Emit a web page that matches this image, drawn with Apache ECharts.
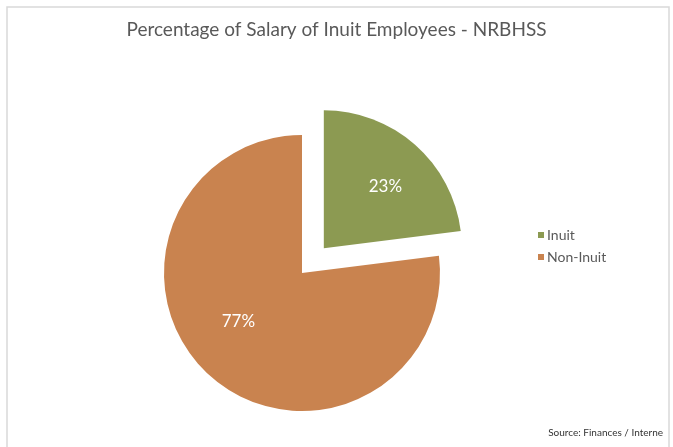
<!DOCTYPE html>
<html>
<head>
<meta charset="utf-8">
<script src="https://cdn.jsdelivr.net/npm/echarts@6/dist/echarts.min.js"></script>
<style>
  html, body { margin: 0; padding: 0; background: #fff; }
  #chart { width: 673px; height: 447px; }
</style>
</head>
<body>
<div id="chart"></div>
<script>
// Share of salary paid to Inuit vs. non-Inuit employees
const categories = ['Inuit', 'Non-Inuit'];
const shares = [23, 77];
const sliceColors = ['#8c9a52', '#c9834f'];
// per-slice label tweaks: padding shifts sideways, trailing blank line lifts the text
const labelPaddings = [[0, 0, 0, 28], [0, 0, 0, 0]];
const labelOffsets = [[0, 0], [-16, -5]];
const labelFormats = ['{c}%\n ', '{c}%'];

const chart = echarts.init(document.getElementById('chart'), null, { renderer: 'canvas' });

const fontFamily = 'Lato, "Noto Sans", sans-serif';

chart.setOption({
  animation: false,
  title: {
    text: 'Percentage of Salary of Inuit Employees - NRBHSS',
    left: 'center',
    top: 15,
    textStyle: { fontFamily, fontSize: 19, fontWeight: 'normal', color: '#595959' }
  },
  legend: {
    orient: 'vertical',
    left: 533,
    top: 223,
    itemWidth: 6,
    itemHeight: 6,
    itemGap: 8,
    icon: 'rect',
    selectedMode: false,
    textStyle: { fontFamily, fontSize: 14, color: '#595959', padding: [0, 0, 0, -2] },
    data: categories
  },
  graphic: [
    {
      type: 'rect',
      shape: { x: 7, y: 7, width: 662, height: 446 },
      style: { fill: 'none', stroke: '#d9d9d9', lineWidth: 1.5 },
      silent: true
    },
    {
      type: 'text',
      right: 10,
      top: 428,
      style: { text: 'Source: Finances / Interne', fontFamily, fontSize: 10, fill: '#333333' }
    }
  ],
  series: [{
    type: 'pie',
    center: [302, 273],
    radius: 138,
    startAngle: 90,
    clockwise: true,
    selectedMode: 'single',
    selectedOffset: 33,
    avoidLabelOverlap: false,
    emphasis: { disabled: true },
    label: {
      show: true,
      position: 'inside',
      fontFamily,
      fontSize: 17,
      lineHeight: 16,
      color: '#ffffff'
    },
    labelLine: { show: false },
    itemStyle: { borderWidth: 0 },
    data: categories.map((name, i) => ({
      name,
      value: shares[i],
      selected: i === 0,
      itemStyle: { color: sliceColors[i] },
      label: { formatter: labelFormats[i], padding: labelPaddings[i], offset: labelOffsets[i] }
    }))
  }]
});
</script>
</body>
</html>
